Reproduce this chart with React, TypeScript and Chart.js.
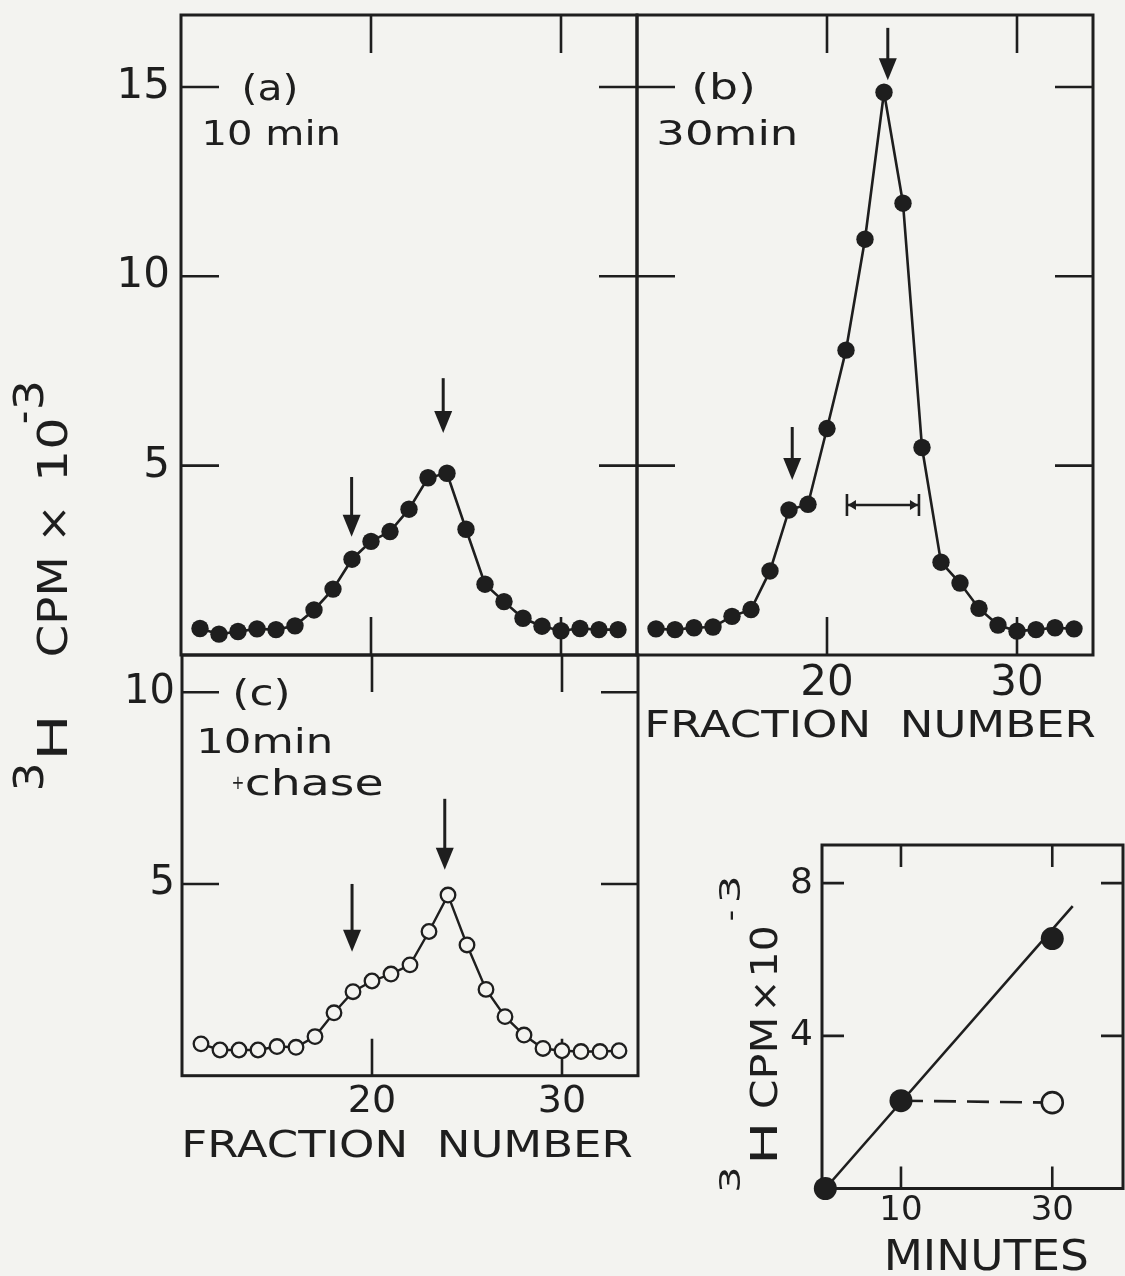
import React, { useEffect, useRef } from "react";
import { Chart, registerables } from "chart.js";

Chart.register(...registerables);

const INK = "#1e1e1e";
const PAPER = "#f3f3f0";
const FONT = "'DejaVu Sans', 'Liberation Sans', sans-serif";
const PAGE_W = 1125;
const PAGE_H = 1276;
const OFF = 100;

// ---------------- data ----------------
const fractions = [11, 12, 13, 14, 15, 16, 17, 18, 19, 20, 21, 22, 23, 24, 25, 26, 27, 28, 29, 30, 31, 32, 33];
const cpm10min = [0.7, 0.55, 0.62, 0.69, 0.67, 0.77, 1.19, 1.74, 2.53, 3.0, 3.26, 3.85, 4.68, 4.8, 3.32, 1.87, 1.41, 0.97, 0.76, 0.64, 0.7, 0.67, 0.67];
const cpm30min = [0.69, 0.67, 0.72, 0.74, 1.02, 1.2, 2.22, 3.83, 3.98, 5.98, 8.05, 10.98, 14.86, 11.93, 5.48, 2.45, 1.9, 1.23, 0.79, 0.63, 0.67, 0.72, 0.69];
const cpm10minChase = [0.83, 0.67, 0.67, 0.67, 0.76, 0.74, 1.02, 1.64, 2.19, 2.47, 2.65, 2.89, 3.76, 4.71, 3.41, 2.25, 1.54, 1.06, 0.71, 0.65, 0.63, 0.63, 0.65];

const fractionTicks = [20, 30];
const cpmTicksTop = [5, 10, 15];
const cpmTicksChase = [5, 10];
const minuteTicks = [10, 30];
const cpmTicksInset = [4, 8];

const pulseMinutes = [0, 10, 30];
const pulseCpm = [0, 2.3, 6.55];
const fitMinutes = [0, 32.7];
const fitCpm = [0, 7.4];
const chaseMinutes = [10, 30];
const chaseCpm = [2.3, 2.25];

// arrows in data units: fraction, tail value, tip value
const arrows10min = [
  { x: 23.8, tail: 7.31, tip: 5.86 },
  { x: 18.98, tail: 4.7, tip: 3.12 },
];
const arrows30min = [
  { x: 23.2, tail: 16.56, tip: 15.18 },
  { x: 18.17, tail: 6.02, tip: 4.62 },
];
const arrowsChase = [
  { x: 23.83, tail: 7.22, tip: 5.37 },
  { x: 18.95, tail: 5.0, tip: 3.23 },
];
const bracket30min = { from: 21.05, to: 24.84, y: 3.96 };

const pts = (xs: number[], ys: number[]) => xs.map((x, i) => ({ x, y: ys[i] }));

// ---------------- drawing helpers ----------------
function drawFit(ctx: CanvasRenderingContext2D, text: string, x: number, base: number, size: number, width: number) {
  ctx.save();
  ctx.font = `${size}px ${FONT}`;
  ctx.textAlign = "left";
  ctx.textBaseline = "alphabetic";
  const m = ctx.measureText(text);
  const vis = m.actualBoundingBoxLeft + m.actualBoundingBoxRight;
  ctx.translate(x, base);
  ctx.scale(width / vis, 1);
  ctx.fillStyle = INK;
  ctx.fillText(text, m.actualBoundingBoxLeft, 0);
  ctx.restore();
}

type Piece = { text: string; bottom: number; top: number; raise: number; size: number };
function drawRotated(ctx: CanvasRenderingContext2D, baselineX: number, pieces: Piece[]) {
  for (const pc of pieces) {
    ctx.save();
    ctx.font = `${pc.size}px ${FONT}`;
    ctx.textAlign = "left";
    ctx.textBaseline = "alphabetic";
    const m = ctx.measureText(pc.text);
    const vis = m.actualBoundingBoxLeft + m.actualBoundingBoxRight;
    ctx.translate(baselineX, pc.bottom);
    ctx.rotate(-Math.PI / 2);
    ctx.scale((pc.bottom - pc.top) / vis, 1);
    ctx.fillStyle = INK;
    ctx.fillText(pc.text, m.actualBoundingBoxLeft, -pc.raise);
    ctx.restore();
  }
}

function drawArrow(ctx: CanvasRenderingContext2D, x: number, y0: number, y1: number) {
  const head = 22;
  const half = 9;
  ctx.beginPath();
  ctx.moveTo(x, y0);
  ctx.lineTo(x, y1 - head + 2);
  ctx.stroke();
  ctx.beginPath();
  ctx.moveTo(x, y1);
  ctx.lineTo(x - half, y1 - head);
  ctx.lineTo(x + half, y1 - head);
  ctx.closePath();
  ctx.fill();
}

type TextItem = { text: string; x: number; base: number; size: number; width: number };

type Panel = {
  key: string;
  area: { left: number; top: number; right: number; bottom: number };
  xRange: [number, number];
  yRange: [number, number];
  xTicks: number[];
  yTicks: number[];
  showX: boolean;
  showY: boolean;
  xFont: number;
  yFont: number;
  xPad: number;
  yPad: number;
  tickLen: number;
  datasets: any[];
  arrows: { x: number; tail: number; tip: number }[];
  bracket?: { from: number; to: number; y: number };
  texts: TextItem[];
  rotated?: { baselineX: number; pieces: Piece[] };
};

const Y_W = 100;
const X_H = 60;

const filledLine = (data: any[]) => ({
  data,
  showLine: true,
  borderColor: INK,
  borderWidth: 2.6,
  pointRadius: 8.7,
  pointHoverRadius: 8.7,
  pointBackgroundColor: INK,
  pointBorderColor: INK,
  pointBorderWidth: 0,
  clip: false,
});

const FR = "FRACTION  NUMBER";

const panels: Panel[] = [
  {
    key: "a",
    area: { left: 181, top: 15, right: 637, bottom: 655 },
    xRange: [10, 34],
    yRange: [0, 16.9],
    xTicks: fractionTicks,
    yTicks: cpmTicksTop,
    showX: false,
    showY: true,
    xFont: 42,
    yFont: 42,
    xPad: 3,
    yPad: 11,
    tickLen: 38,
    datasets: [filledLine(pts(fractions, cpm10min))],
    arrows: arrows10min,
    texts: [
      { text: "(a)", x: 245, base: 100, size: 36, width: 50 },
      { text: "10 min", x: 205, base: 145, size: 34, width: 133 },
    ],
    rotated: {
      baselineX: 67,
      pieces: [
        { text: "3", bottom: 788, top: 765, raise: 24, size: 40 },
        { text: "H", bottom: 755, top: 720, raise: 0, size: 41 },
        { text: "CPM", bottom: 655, top: 560, raise: 0, size: 41 },
        { text: "×", bottom: 537, top: 510, raise: 0, size: 41 },
        { text: "10", bottom: 477, top: 420, raise: 0, size: 41 },
        { text: "-", bottom: 423, top: 412, raise: 30, size: 40 },
        { text: "3", bottom: 407, top: 383, raise: 24, size: 40 },
      ],
    },
  },
  {
    key: "b",
    area: { left: 637, top: 15, right: 1093, bottom: 655 },
    xRange: [10, 34],
    yRange: [0, 16.9],
    xTicks: fractionTicks,
    yTicks: cpmTicksTop,
    showX: true,
    showY: false,
    xFont: 42,
    yFont: 42,
    xPad: 4,
    yPad: 11,
    tickLen: 38,
    datasets: [filledLine(pts(fractions, cpm30min))],
    arrows: arrows30min,
    bracket: bracket30min,
    texts: [
      { text: "(b)", x: 695, base: 99, size: 36, width: 57 },
      { text: "30min", x: 659, base: 145, size: 34, width: 136 },
      { text: FR, x: 648, base: 737, size: 37, width: 447 },
    ],
  },
  {
    key: "c",
    area: { left: 182, top: 655, right: 638, bottom: 1075.7 },
    xRange: [10, 34],
    yRange: [0, 10.97],
    xTicks: fractionTicks,
    yTicks: cpmTicksChase,
    showX: true,
    showY: true,
    xFont: 38,
    yFont: 40,
    xPad: 4,
    yPad: 7,
    tickLen: 37,
    datasets: [
      {
        data: pts(fractions, cpm10minChase),
        showLine: true,
        borderColor: INK,
        borderWidth: 2.4,
        pointRadius: 7.3,
        pointHoverRadius: 7.3,
        pointBackgroundColor: PAPER,
        pointBorderColor: INK,
        pointBorderWidth: 2.3,
        clip: false,
      },
    ],
    arrows: arrowsChase,
    texts: [
      { text: "(c)", x: 236, base: 705, size: 36, width: 51 },
      { text: "10min", x: 200, base: 753, size: 34, width: 130 },
      { text: "+", x: 233, base: 789, size: 20, width: 10 },
      { text: "chase", x: 246, base: 795, size: 36, width: 136 },
      { text: FR, x: 185, base: 1157, size: 37, width: 447 },
    ],
  },
  {
    key: "d",
    area: { left: 822, top: 845, right: 1123, bottom: 1188.5 },
    xRange: [-0.44, 39.35],
    yRange: [0, 9],
    xTicks: minuteTicks,
    yTicks: cpmTicksInset,
    showX: true,
    showY: true,
    xFont: 34,
    yFont: 36,
    xPad: 2,
    yPad: 9,
    tickLen: 22,
    datasets: [
      {
        data: pts(pulseMinutes, pulseCpm),
        showLine: false,
        pointRadius: 11.5,
        pointHoverRadius: 11.5,
        pointBackgroundColor: INK,
        pointBorderColor: INK,
        pointBorderWidth: 0,
        clip: false,
      },
      {
        data: pts(fitMinutes, fitCpm),
        showLine: true,
        borderColor: INK,
        borderWidth: 2.6,
        pointRadius: 0,
        pointHoverRadius: 0,
        clip: false,
      },
      {
        data: pts(chaseMinutes, chaseCpm),
        showLine: true,
        borderColor: INK,
        borderWidth: 2.6,
        borderDash: [22, 11],
        pointRadius: [0, 10.5],
        pointHoverRadius: [0, 10.5],
        pointBackgroundColor: PAPER,
        pointBorderColor: INK,
        pointBorderWidth: 2.6,
        clip: false,
      },
    ],
    arrows: [],
    texts: [{ text: "MINUTES", x: 888, base: 1270, size: 42, width: 199 }],
    rotated: {
      baselineX: 777,
      pieces: [
        { text: "3", bottom: 1190, top: 1169, raise: 37, size: 28 },
        { text: "H", bottom: 1160, top: 1126, raise: 0, size: 37 },
        { text: "CPM", bottom: 1107, top: 1020, raise: 0, size: 37 },
        { text: "×", bottom: 1007, top: 985, raise: 0, size: 37 },
        { text: "10", bottom: 973, top: 927, raise: 0, size: 37 },
        { text: "-", bottom: 920, top: 911, raise: 37, size: 28 },
        { text: "3", bottom: 900, top: 878, raise: 37, size: 28 },
      ],
    },
  },
];

function panelPlugin(p: Panel) {
  return {
    id: "panel_" + p.key,
    beforeDatasetsDraw(chart: any) {
      const { ctx, chartArea: a, scales } = chart;
      const xs = scales.x;
      const ys = scales.y;
      ctx.save();
      ctx.strokeStyle = INK;
      ctx.fillStyle = INK;
      ctx.lineWidth = 3;
      ctx.strokeRect(a.left, a.top, a.right - a.left, a.bottom - a.top);
      ctx.lineWidth = 2.6;
      ctx.beginPath();
      for (const v of p.xTicks) {
        const px = xs.getPixelForValue(v);
        ctx.moveTo(px, a.top);
        ctx.lineTo(px, a.top + p.tickLen);
        ctx.moveTo(px, a.bottom);
        ctx.lineTo(px, a.bottom - p.tickLen);
      }
      for (const v of p.yTicks) {
        const py = ys.getPixelForValue(v);
        ctx.moveTo(a.left, py);
        ctx.lineTo(a.left + p.tickLen, py);
        ctx.moveTo(a.right, py);
        ctx.lineTo(a.right - p.tickLen, py);
      }
      ctx.stroke();
      ctx.lineWidth = 3;
      for (const ar of p.arrows) {
        drawArrow(ctx, xs.getPixelForValue(ar.x), ys.getPixelForValue(ar.tail), ys.getPixelForValue(ar.tip));
      }
      if (p.bracket) {
        const x0 = xs.getPixelForValue(p.bracket.from);
        const x1 = xs.getPixelForValue(p.bracket.to);
        const y = ys.getPixelForValue(p.bracket.y);
        ctx.lineWidth = 2.6;
        ctx.beginPath();
        ctx.moveTo(x0, y);
        ctx.lineTo(x1, y);
        ctx.moveTo(x0, y - 11);
        ctx.lineTo(x0, y + 11);
        ctx.moveTo(x1, y - 11);
        ctx.lineTo(x1, y + 11);
        ctx.stroke();
        ctx.beginPath();
        ctx.moveTo(x0 + 1, y);
        ctx.lineTo(x0 + 9, y - 5);
        ctx.lineTo(x0 + 9, y + 5);
        ctx.closePath();
        ctx.moveTo(x1 - 1, y);
        ctx.lineTo(x1 - 9, y - 5);
        ctx.lineTo(x1 - 9, y + 5);
        ctx.closePath();
        ctx.fill();
      }
      ctx.restore();
    },
    afterDraw(chart: any) {
      const ctx = chart.ctx;
      ctx.save();
      ctx.translate(OFF, OFF);
      for (const t of p.texts) drawFit(ctx, t.text, t.x, t.base, t.size, t.width);
      if (p.rotated) drawRotated(ctx, p.rotated.baselineX, p.rotated.pieces);
      ctx.restore();
    },
  };
}

function buildConfig(p: Panel): any {
  const a = p.area;
  const padding = {
    left: a.left + OFF - (p.showY ? Y_W : 0),
    top: a.top + OFF,
    right: PAGE_W + OFF - a.right,
    bottom: PAGE_H + OFF - a.bottom - (p.showX ? X_H : 0),
  };
  const axis = (ticksArr: number[], show: boolean, font: number, pad: number, range: [number, number], isX: boolean) => ({
    type: "linear",
    min: range[0],
    max: range[1],
    display: show,
    grid: { display: false, drawTicks: false },
    border: { display: false },
    ticks: {
      autoSkip: false,
      maxRotation: 0,
      minRotation: 0,
      padding: pad,
      color: INK,
      font: { family: FONT, size: font },
      callback: (v: number) => String(v),
    },
    afterBuildTicks: (scale: any) => {
      scale.ticks = ticksArr.map((v) => ({ value: v }));
    },
    afterFit: (scale: any) => {
      if (!show) return;
      if (isX) scale.height = X_H;
      else scale.width = Y_W;
    },
  });
  return {
    type: "scatter",
    data: { datasets: p.datasets },
    options: {
      responsive: false,
      animation: false,
      devicePixelRatio: 1,
      events: [],
      layout: { padding, autoPadding: false },
      plugins: { legend: { display: false }, tooltip: { enabled: false }, title: { display: false } },
      elements: { line: { tension: 0 } },
      scales: {
        x: axis(p.xTicks, p.showX, p.xFont, p.xPad, p.xRange, true),
        y: axis(p.yTicks, p.showY, p.yFont, p.yPad, p.yRange, false),
      },
    },
    plugins: [panelPlugin(p)],
  };
}

export default function App() {
  const canvases = useRef<(HTMLCanvasElement | null)[]>([]);
  useEffect(() => {
    const charts = panels.map((p, i) => new Chart(canvases.current[i] as HTMLCanvasElement, buildConfig(p)));
    return () => charts.forEach((c) => c.destroy());
  }, []);
  const cw = PAGE_W + 2 * OFF;
  const ch = PAGE_H + 2 * OFF;
  return (
    <div
      style={{
        position: "absolute",
        left: 0,
        top: 0,
        width: PAGE_W,
        height: PAGE_H,
        background: PAPER,
        overflow: "hidden",
      }}
    >
      {panels.map((p, i) => (
        <canvas
          key={p.key}
          ref={(el) => {
            canvases.current[i] = el;
          }}
          width={cw}
          height={ch}
          style={{ position: "absolute", left: -OFF, top: -OFF, width: cw, height: ch }}
        />
      ))}
    </div>
  );
}
